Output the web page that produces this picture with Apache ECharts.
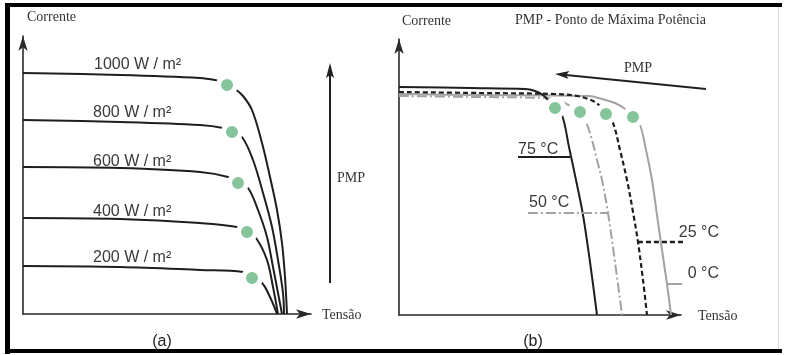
<!DOCTYPE html>
<html>
<head>
<meta charset="utf-8">
<script src="https://cdn.jsdelivr.net/npm/echarts@6/dist/echarts.min.js"></script>
<style>html,body{margin:0;padding:0;background:#fff}#c{width:785px;height:355px}</style>
</head>
<body>
<div id="c"></div>
<script>
// ---- Panel (a): irradiance curves (relative units) ----
const irrLabels = ['1000 W / m²', '800 W / m²', '600 W / m²', '400 W / m²', '200 W / m²'];
const curveA1000 = [[0,241],[97,239],[177,236],[192,234],[199,232],[204,229],[212,225],[220,218],[229,204],[239,171],[247,137],[254,104],[259,71],[262,37],[264,0]];
const curveA800  = [[0,194],[97,192],[177,189],[200,186],[209,182],[219,177],[230,154],[240,121],[249,87],[255,54],[260,21],[261,0]];
const curveA600  = [[0,147],[97,146],[177,142],[205,137],[215,131],[225,126],[235,104],[244,77],[250,47],[255,21],[259,0]];
const curveA400  = [[0,96],[97,95],[177,91],[214,87],[224,82],[233,76],[244,54],[250,27],[255,0]];
const curveA200  = [[0,48],[97,47],[177,44],[220,42],[229,36],[239,31],[247,17],[254,0]];
const pmpA = [[204,229],[209,182],[215,131],[224,82],[229,36]];

// ---- Panel (b): temperature curves (relative units) ----
const tempLabels = ['75 °C', '50 °C', '25 °C', '0 °C'];
const curve75 = [[0,228],[71,227],[126,226],[136,224],[144,220],[150,214],[156,207],[163,200],[170,168],[177,135],[184,100],[191,53],[198,0]];
const curve50 = [[0,219],[81,218],[146,217],[161,214],[171,209],[181,203],[187,193],[193,175],[198,155],[203,135],[209,102],[216,53],[223,0]];
const curve25 = [[0,223],[81,222],[156,221],[178,219],[192,215],[200,210],[207,201],[214,192],[221,165],[228,135],[234,103],[239,73],[244,35],[248,0]];
const curve0  = [[0,221],[81,220],[190,219],[203,216],[216,212],[226,206],[234,198],[241,190],[247,165],[253,135],[258,100],[263,65],[268,31],[272,0]];
const pmpB = [[156,207],[181,203],[207,201],[234,198]];
const leader75 = [[119,158],[171,158]];
const leader50 = [[129,102],[210,102]];
const leader25 = [[239,73],[320,73]];
const leader0  = [[268,31],[320,31]];

const axisTitles = ['Corrente', 'Tensão'];
const titleB = 'PMP - Ponto de Máxima Potência';
const pmpText = 'PMP';
const panelNames = ['(a)', '(b)'];

const BLACK = '#1e1e1e', GRAY = '#a3a3a3', GREEN = '#86c59c';
const SERIF = '"Liberation Serif", "DejaVu Serif", serif';
const SANS = '"Liberation Sans", Arial, sans-serif';

function axisX(gi, max){
  return {type:'value', gridIndex:gi, min:0, max:max, show:true,
    axisLine:{show:true, symbol:['none','arrow'], symbolSize:[7,15], lineStyle:{color:'#2a2a2a', width:1.6}},
    axisTick:{show:false}, axisLabel:{show:false}, splitLine:{show:false}};
}
function axisY(gi, max){
  return {type:'value', gridIndex:gi, min:0, max:max, show:true,
    axisLine:{show:true, onZero:false, symbol:['none','arrow'], symbolSize:[7,15], lineStyle:{color:'#2a2a2a', width:1.6}},
    axisTick:{show:false}, axisLabel:{show:false}, splitLine:{show:false}};
}
function curve(gi, data, color, type, width){
  return {type:'line', xAxisIndex:gi, yAxisIndex:gi, data:data, smooth:0.35, showSymbol:false, symbol:'none',
    clip:false, lineStyle:{color:color, width:width||2, type:type||'solid'}, z:2, silent:true};
}
function dots(gi, data){
  return {type:'scatter', xAxisIndex:gi, yAxisIndex:gi, data:data, symbolSize:17, clip:false,
    itemStyle:{color:GREEN, borderColor:'#ffffff', borderWidth:5, opacity:1}, z:5, silent:true};
}
function txt(x, y, s, font, size, align, color){
  return {type:'text', x:x, y:y, z:10, style:{text:s, fontFamily:font, fontSize:size, fill:color||'#333',
    textAlign:align||'left', textVerticalAlign:'middle'}};
}

const chart = echarts.init(document.getElementById('c'), null, {renderer:'canvas'});
chart.setOption({
  animation:false,
  backgroundColor:'#ffffff',
  grid:[
    {left:23, top:36, width:288, height:278},
    {left:399, top:39, width:282, height:276}
  ],
  xAxis:[axisX(0,288), axisX(1,282)],
  yAxis:[axisY(0,278), axisY(1,276)],
  series:[
    curve(0, curveA1000, BLACK), curve(0, curveA800, BLACK), curve(0, curveA600, BLACK),
    curve(0, curveA400, BLACK), curve(0, curveA200, BLACK),
    dots(0, pmpA),
    curve(1, curve0, GRAY, 'solid', 2),
    curve(1, curve50, GRAY, [10,3,2,3], 2),
    curve(1, curve25, BLACK, [5,3], 2.2),
    curve(1, curve75, BLACK, 'solid', 2),
    curve(1, leader75, BLACK, 'solid', 2),
    curve(1, leader50, GRAY, [10,3,2,3], 2),
    curve(1, leader25, BLACK, [5,3], 2.4),
    curve(1, leader0, GRAY, 'solid', 2),
    dots(1, pmpB)
  ],
  graphic:[
    // frame
    {type:'rect', shape:{x:5, y:3, width:777, height:4}, style:{fill:'#000'}, z:20},
    {type:'rect', shape:{x:5, y:3, width:5, height:351}, style:{fill:'#000'}, z:20},
    {type:'rect', shape:{x:5, y:349, width:777, height:4}, style:{fill:'#000'}, z:20},
    {type:'rect', shape:{x:778, y:7, width:1, height:342}, style:{fill:'#dcdcdc'}, z:20},
    // axis titles
    txt(27, 17, axisTitles[0], SERIF, 14),
    txt(322, 315, axisTitles[1], SERIF, 14),
    txt(402, 21, axisTitles[0], SERIF, 14),
    txt(698, 316, axisTitles[1], SERIF, 14),
    txt(515, 20, titleB, SERIF, 14),
    // irradiance labels
    txt(94, 65, irrLabels[0], SANS, 16, 'left', '#3a3a3a'),
    txt(93, 113, irrLabels[1], SANS, 16, 'left', '#3a3a3a'),
    txt(93, 162, irrLabels[2], SANS, 16, 'left', '#3a3a3a'),
    txt(93, 212, irrLabels[3], SANS, 16, 'left', '#3a3a3a'),
    txt(93, 258, irrLabels[4], SANS, 16, 'left', '#3a3a3a'),
    // temperature labels
    txt(518, 150, tempLabels[0], SANS, 16, 'left', '#3a3a3a'),
    txt(529, 203, tempLabels[1], SANS, 16, 'left', '#3a3a3a'),
    txt(719, 233, tempLabels[2], SANS, 16, 'right', '#3a3a3a'),
    txt(719, 274, tempLabels[3], SANS, 16, 'right', '#3a3a3a'),
    // PMP arrows
    {type:'line', shape:{x1:330, y1:283, x2:330, y2:74}, style:{stroke:'#222', lineWidth:2}, z:10},
    {type:'polygon', shape:{points:[[330,63],[326,78],[330,75],[334,78]]}, style:{fill:'#222'}, z:10},
    txt(337, 178, pmpText, SERIF, 14),
    {type:'line', shape:{x1:706, y1:89, x2:566, y2:75}, style:{stroke:'#222', lineWidth:2}, z:10},
    {type:'polygon', shape:{points:[[555,74],[569.4,71],[566,75.3],[568.6,79]]}, style:{fill:'#222'}, z:10},
    txt(624, 68, pmpText, SERIF, 14),
    // panel names
    txt(162, 342, panelNames[0], SANS, 16, 'center', '#222'),
    txt(533, 342, panelNames[1], SANS, 16, 'center', '#222')
  ]
});
</script>
</body>
</html>
